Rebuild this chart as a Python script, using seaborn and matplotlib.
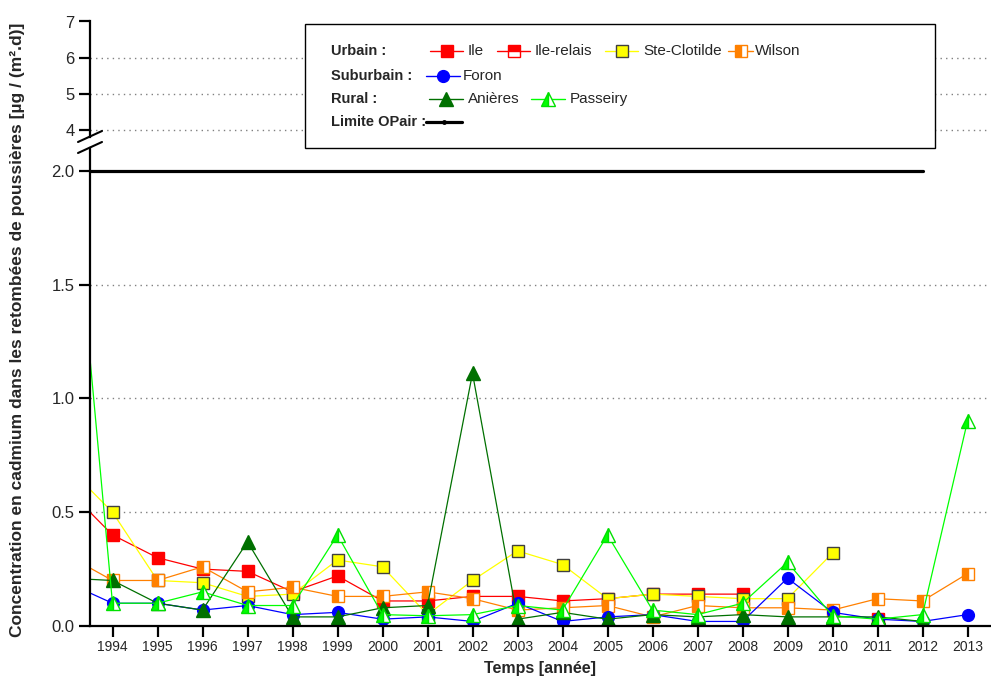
import numpy as np
import pandas as pd
import matplotlib
matplotlib.use("Agg")
import matplotlib.pyplot as plt
from matplotlib.lines import Line2D
from matplotlib.patches import Rectangle
import seaborn as sns

nan = np.nan

# yearly values, 1993 is only there so the lines run in from the left edge
years = list(range(1993, 2014))
ile = [0.60, 0.40, 0.30, 0.25, 0.24, 0.15, 0.22, 0.11, 0.11, 0.13, 0.13,
       0.11, 0.12, 0.14, 0.14, 0.14, nan, nan, nan, nan, nan]
ile_relais = [nan] * 18 + [0.03, nan, nan]
ste_clotilde = [0.70, 0.50, 0.20, 0.19, 0.13, 0.14, 0.29, 0.26, 0.05, 0.20, 0.33,
                0.27, 0.12, 0.14, 0.13, 0.12, 0.12, 0.32, nan, nan, nan]
wilson = [0.31, 0.20, 0.20, 0.26, 0.15, 0.17, 0.13, 0.13, 0.15, 0.12, 0.07,
          0.08, 0.09, 0.04, 0.09, 0.08, 0.08, 0.07, 0.12, 0.11, 0.23]
foron = [0.19, 0.10, 0.10, 0.07, 0.09, 0.05, 0.06, 0.03, 0.04, 0.02, 0.10,
         0.02, 0.04, 0.05, 0.02, 0.02, 0.21, 0.06, 0.03, 0.02, 0.05]
anieres = [0.21, 0.20, 0.10, 0.07, 0.37, 0.04, 0.04, 0.08, 0.09, 1.11, 0.03,
           0.06, 0.03, 0.05, 0.04, 0.05, 0.04, 0.04, 0.04, 0.02, nan]
passeiry = [2.25, 0.10, 0.10, 0.15, 0.09, 0.09, 0.40, 0.05, 0.045, 0.05, 0.09,
            0.07, 0.40, 0.07, 0.05, 0.10, 0.28, 0.045, 0.03, 0.05, 0.90]
limite = [2.0] * 20 + [nan]

tick_years = list(range(1994, 2014))
bottom_ticks = [0.0, 0.5, 1.0, 1.5, 2.0]
top_ticks = [4, 5, 6, 7]

df = pd.DataFrame({"annee": years, "Ile": ile, "Ile-relais": ile_relais,
                   "Ste-Clotilde": ste_clotilde, "Wilson": wilson, "Foron": foron,
                   "Anières": anieres, "Passeiry": passeiry, "Limite": limite})

styles = {
    "Ile": dict(color="#ff0000", marker="s", ms=8, mfc="#ff0000", mec="#ff0000"),
    "Ile-relais": dict(color="#ff0000", marker="s", ms=8, mfc="#ff0000", mec="#ff0000",
                       fillstyle="top", markerfacecoloralt="white"),
    "Ste-Clotilde": dict(color="#ffff00", marker="s", ms=8, mfc="#ffff00", mec="#404040"),
    "Wilson": dict(color="#ff8000", marker="s", ms=8, mfc="#ff8000", mec="#ff8000",
                   fillstyle="left", markerfacecoloralt="white"),
    "Foron": dict(color="#0000ff", marker="o", ms=8.5, mfc="#0000ff", mec="#0000ff"),
    "Anières": dict(color="#007000", marker="^", ms=10, mfc="#007000", mec="#007000"),
    "Passeiry": dict(color="#00ff00", marker="^", ms=10, mfc="#00ff00", mec="#00e000",
                     fillstyle="left", markerfacecoloralt="white"),
}

sns.set_theme(style="ticks")
plt.rcParams["font.family"] = ["Liberation Sans", "DejaVu Sans"]

W, H = 991, 686
fig = plt.figure(figsize=(W / 100, H / 100), dpi=100)
L, R = 90, 990
ax_top = fig.add_axes([L / W, (H - 136.5) / H, (R - L) / W, (136.5 - 21.5) / H])
ax = fig.add_axes([L / W, (H - 626) / H, (R - L) / W, (626 - 147.5) / H])

grid_kw = dict(color="#808080", lw=1, ls=(0, (1, 3)), zorder=0)
for a in (ax, ax_top):
    for name, st in styles.items():
        sns.lineplot(data=df, x="annee", y=name, ax=a, lw=0.9, mew=1, **st)
    sns.lineplot(data=df, x="annee", y="Limite", ax=a, color="black", lw=2.3)
    a.set_xlim(1993.5, 2013.5)
    a.set_xlabel("")
    a.set_ylabel("")
    for s in ("top", "right"):
        a.spines[s].set_visible(False)
    a.spines["left"].set_linewidth(1.6)
    a.spines["left"].set_color("black")
    a.tick_params(axis="y", length=8, width=1.6, color="black", labelsize=12, pad=3)

for v in (0.5, 1.0, 1.5):
    ax.axhline(v, **grid_kw)
for v in (4, 5, 6):
    ax_top.axhline(v, **grid_kw)

ax.set_ylim(0, 2.102)
ax.set_yticks(bottom_ticks)
ax.set_yticklabels([f"{t:.1f}" for t in bottom_ticks])
ax.set_xticks(tick_years)
ax.set_xticklabels([str(y) for y in tick_years])
ax.spines["bottom"].set_linewidth(1.6)
ax.spines["bottom"].set_color("black")
ax.tick_params(axis="x", length=8, width=1.6, color="black", labelsize=10, pad=2)

ax_top.set_ylim(3.81, 7.0)
ax_top.set_yticks(top_ticks)
ax_top.spines["bottom"].set_visible(False)
ax_top.set_xticks([])

fig.text(540 / W, 1 - 668 / H, "Temps [année]", ha="center", va="center",
         fontsize=11.5, fontweight="bold")
fig.text(18 / W, 1 - 330 / H,
         "Concentration en cadmium dans les retombées de poussières [µg / (m².d)]",
         rotation=90, ha="center", va="center", fontsize=12.5, fontweight="bold")

# overlay in pixel coordinates for the legend box and the axis break
lax = fig.add_axes([0, 0, 1, 1], zorder=10)
lax.set_xlim(0, W)
lax.set_ylim(H, 0)
lax.axis("off")
lax.patch.set_alpha(0)

for y0 in (142, 153):
    lax.add_line(Line2D([78, 102], [y0, y0 - 11], color="black", lw=1.5))

lax.add_patch(Rectangle((305, 24), 630, 124, facecolor="white", edgecolor="black", lw=1))

rows = [51, 76, 99, 122]
for y, lab in zip(rows, ["Urbain :", "Suburbain :", "Rural :", "Limite OPair :"]):
    lax.text(331, y, lab, ha="left", va="center", fontsize=10.5, fontweight="bold")

entries = [("Ile", 0, 430, 463, 468), ("Ile-relais", 0, 497, 530, 535),
           ("Ste-Clotilde", 0, 605, 638, 643), ("Wilson", 0, 728, 753, 755),
           ("Foron", 1, 426, 460, 463), ("Anières", 2, 429, 463, 468),
           ("Passeiry", 2, 531, 565, 570)]
for name, r, x0, x1, xt in entries:
    st = dict(styles[name])
    col = st.pop("color")
    y = rows[r]
    lax.add_line(Line2D([x0, x1], [y, y], color=col, lw=1))
    lax.add_line(Line2D([(x0 + x1) / 2], [y], color=col, lw=0, mew=1, **st))
    lax.text(xt, y, name, ha="left", va="center", fontsize=11)

lax.add_line(Line2D([426, 462], [122, 122], color="black", lw=2.3))
lax.add_line(Line2D([444], [122], color="black", marker="o", ms=2.5, lw=0))

fig.savefig("out.png", dpi=100)
